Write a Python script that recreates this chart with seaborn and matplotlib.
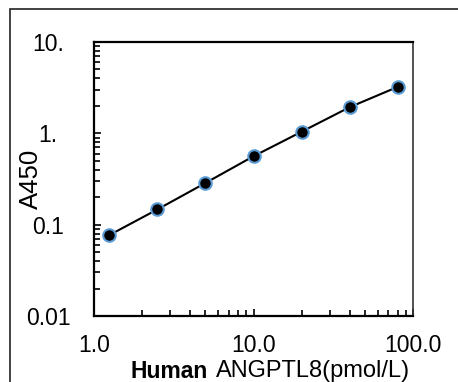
import matplotlib
matplotlib.use("Agg")
import matplotlib.pyplot as plt
import seaborn as sns
import pandas as pd
from matplotlib.patches import Rectangle

# data
concentration = [1.25, 2.5, 5, 10, 20, 40, 80]
absorbance = [0.077, 0.147, 0.286, 0.561, 1.04, 1.93, 3.22]
x_ticks = [1, 10, 100]
x_tick_labels = ["1.0", "10.0", "100.0"]
y_ticks = [0.01, 0.1, 1, 10]
y_tick_labels = ["0.01", "0.1", "1.", "10."]

sns.set_style("ticks")
plt.rcParams["font.family"] = ["Liberation Sans", "DejaVu Sans"]
plt.rcParams["text.color"] = "black"
plt.rcParams["axes.labelcolor"] = "black"
plt.rcParams["xtick.color"] = "black"
plt.rcParams["ytick.color"] = "black"

df = pd.DataFrame({"conc": concentration, "a450": absorbance})

W, H = 458, 382
fig = plt.figure(figsize=(W / 100, H / 100), dpi=100)
ax = fig.add_axes([94 / W, 1 - 316 / H, (413 - 94) / W, (316 - 42) / H])

sns.lineplot(data=df, x="conc", y="a450", ax=ax, color="black", linewidth=1.5,
             marker="o", markersize=9, markerfacecolor="black",
             markeredgecolor="#5B9BD5", markeredgewidth=1.5)

ax.set_xscale("log")
ax.set_yscale("log")
ax.set_xlim(1, 100)
ax.set_ylim(0.01, 10)
ax.set_xticks(x_ticks)
ax.set_xticklabels(x_tick_labels, fontsize=16.5)
ax.set_yticks(y_ticks)
ax.set_yticklabels(y_tick_labels, fontsize=16.5)
for lbl in ax.get_yticklabels():
    lbl.set_ha("center")
ax.tick_params(axis="y", which="major", direction="in", length=5, width=1.2, pad=33)
ax.tick_params(axis="x", which="major", direction="in", length=5, width=1.2, pad=13)
ax.tick_params(which="minor", direction="in", length=4, width=1.2)
ax.set_xlabel("")
ax.set_ylabel("A450", fontsize=18.5)
ax.yaxis.set_label_coords(-0.16, 0.5)

for side in ["left", "bottom", "top"]:
    ax.spines[side].set_linewidth(1.6)
    ax.spines[side].set_color("black")
ax.spines["right"].set_linewidth(1.2)
ax.spines["right"].set_color("#333333")

fig.text(208 / W, 1 - 377.5 / H, "Human", ha="right", va="baseline",
         fontsize=16.5, fontweight="bold")
fig.text(216 / W, 1 - 377.5 / H, "ANGPTL8(pmol/L)", ha="left", va="baseline",
         fontsize=17)

fig.patches.append(Rectangle((9.5 / W, -0.1), 1.2, 1.1 - 9.5 / H, transform=fig.transFigure,
                             fill=False, edgecolor="#222222", linewidth=1.2))

fig.savefig("out.png", dpi=100)
